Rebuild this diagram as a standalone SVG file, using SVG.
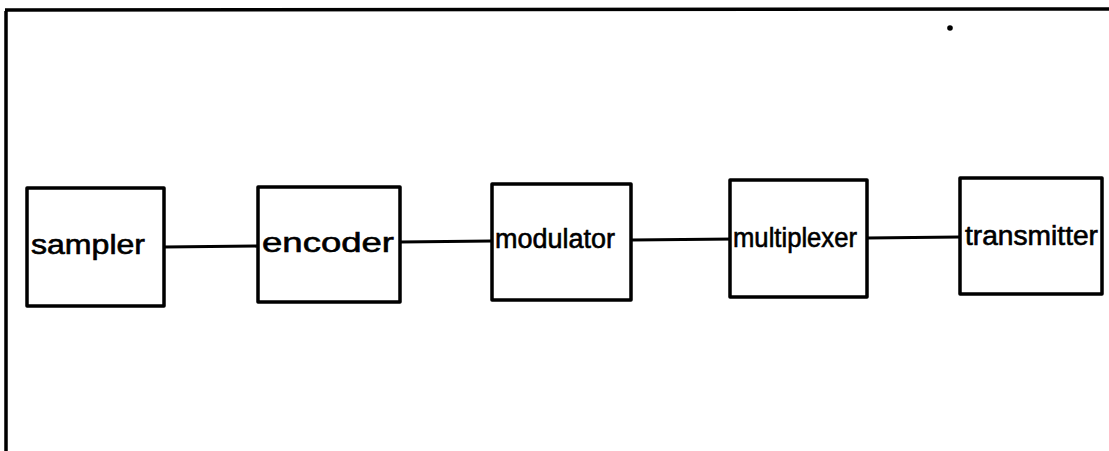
<svg xmlns="http://www.w3.org/2000/svg" width="1109" height="451" viewBox="0 0 1109 451">
<style>
.box{fill:#fff;stroke:#000;stroke-width:3.5;stroke-linejoin:round}
.con{stroke:#000;stroke-width:3.2;fill:none}
.lbl{font-family:"Liberation Sans",Arial,sans-serif;fill:#000;font-size:27px;stroke:#000;stroke-width:0.6}
</style>
<rect width="1109" height="451" fill="#fff"/>
<g id="frame">
<path d="M6,451 L6,11 M5,10 L1109,9" stroke="#000" stroke-width="3.5" fill="none"/>
<circle cx="950" cy="28" r="2.8" fill="#000"/>
</g>
<g id="connectors">
<line class="con" x1="164" y1="247" x2="258" y2="246"/>
<line class="con" x1="400" y1="242" x2="492" y2="241"/>
<line class="con" x1="631" y1="240" x2="735" y2="239"/>
<line class="con" x1="867" y1="238" x2="960" y2="237"/>
</g>
<g id="sampler">
<rect class="box" x="27" y="188" width="137" height="118"/>
<text class="lbl" x="31" y="254" textLength="114" lengthAdjust="spacingAndGlyphs">sampler</text>
</g>
<g id="encoder">
<rect class="box" x="258" y="187" width="142" height="115"/>
<text class="lbl" x="262" y="252" textLength="132" lengthAdjust="spacingAndGlyphs">encoder</text>
</g>
<g id="modulator">
<rect class="box" x="492" y="184" width="139" height="116"/>
<text class="lbl" x="495" y="248" textLength="120" lengthAdjust="spacingAndGlyphs" font-size="24">modulator</text>
</g>
<g id="multiplexer">
<rect class="box" x="730" y="180" width="137" height="117"/>
<text class="lbl" x="733" y="247" textLength="124" lengthAdjust="spacingAndGlyphs" font-size="24">multiplexer</text>
</g>
<g id="transmitter">
<rect class="box" x="960" y="178" width="142" height="116"/>
<text class="lbl" x="965" y="245" textLength="133" lengthAdjust="spacingAndGlyphs" font-size="24">transmitter</text>
</g>
</svg>
